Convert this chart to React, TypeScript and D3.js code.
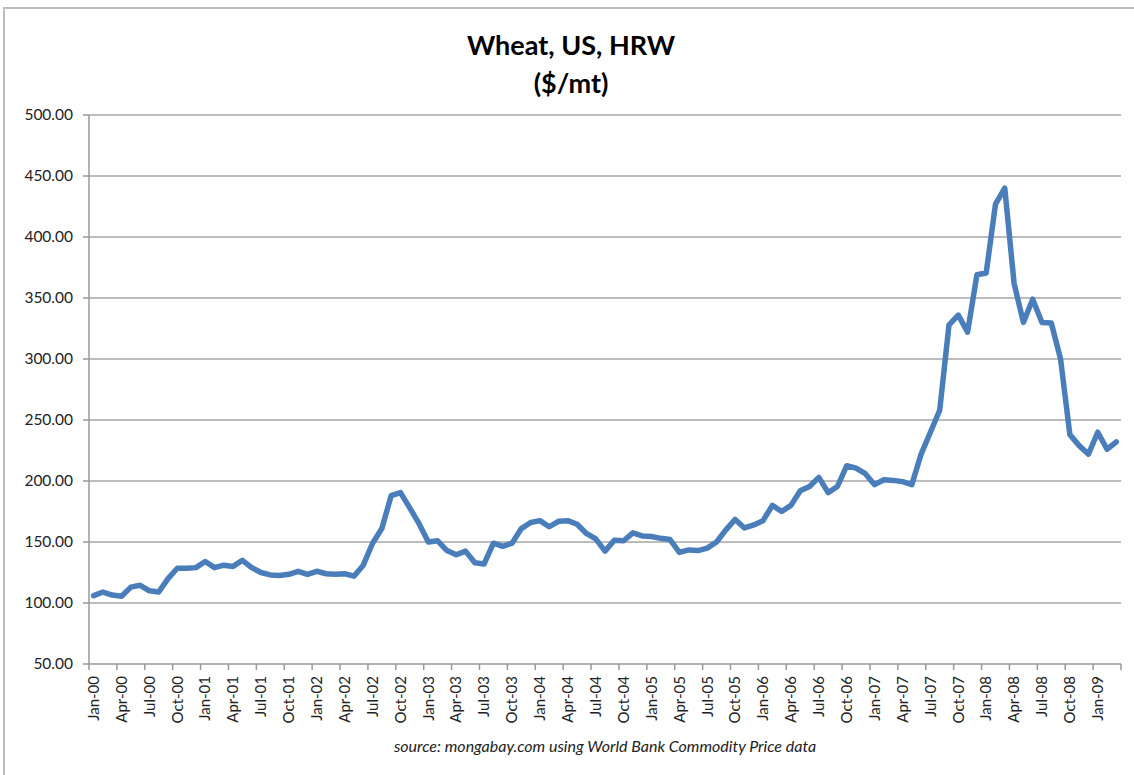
import React, { useEffect, useRef } from 'react';
import * as d3 from 'd3';

// Monthly HRW wheat prices ($/mt)
const prices2000 = [106, 109, 106.5, 105.5, 113, 114.5, 110, 109, 120, 128.5, 128.5, 129];
const prices2001 = [134, 129, 131, 130, 135, 129, 125, 123, 122.5, 123.5, 126, 123.5];
const prices2002 = [126, 124, 123.5, 124, 122, 131, 149, 161, 188, 190.5, 178, 165];
const prices2003 = [150, 151, 143, 139.5, 142.5, 133, 132, 149, 146.5, 149, 161, 166];
const prices2004 = [167.5, 162.5, 167, 167.5, 164.5, 157, 152.5, 142.5, 151.5, 151, 157.5, 155];
const prices2005 = [154.5, 153, 152, 141.5, 143.5, 143, 145, 150, 160, 168.5, 161.5, 164];
const prices2006 = [167.5, 180, 175, 180, 192, 195.5, 203, 190.5, 195.5, 212.5, 210.5, 206];
const prices2007 = [197, 201, 200.5, 199.5, 197, 222, 240, 258, 328, 336, 322, 369];
const prices2008 = [370.5, 427, 440, 362, 330, 349, 330, 329.5, 300, 238, 229, 222];
const prices2009 = [240, 226, 232];

const years = ['00', '01', '02', '03', '04', '05', '06', '07', '08', '09'];
const monthNames = ['Jan', 'Feb', 'Mar', 'Apr', 'May', 'Jun', 'Jul', 'Aug', 'Sep', 'Oct', 'Nov', 'Dec'];
const yTicks = [50, 100, 150, 200, 250, 300, 350, 400, 450, 500];

const title = ['Wheat, US, HRW', '($/mt)'];
const source = 'source: mongabay.com using World Bank Commodity Price data';

const prices = [
  ...prices2000, ...prices2001, ...prices2002, ...prices2003, ...prices2004,
  ...prices2005, ...prices2006, ...prices2007, ...prices2008, ...prices2009,
];
const months = prices.map((_, i) => `${monthNames[i % 12]}-${years[Math.floor(i / 12)]}`);

const FONT = 'Lato, "Open Sans", sans-serif';

const App: React.FC = () => {
  const svgRef = useRef<SVGSVGElement>(null);

  useEffect(() => {
    if (!svgRef.current) return;
    const width = 1134;
    const height = 775;
    const left = 89;
    const right = 1121;
    const top = 115;
    const bottom = 664;

    const svg = d3.select(svgRef.current)
      .attr('width', width)
      .attr('height', height);
    svg.selectAll('*').remove();

    svg.append('rect').attr('width', width).attr('height', height).attr('fill', '#ffffff');

    // outer chart frame
    svg.append('rect')
      .attr('x', 4).attr('y', 8)
      .attr('width', width + 20).attr('height', height + 20)
      .attr('fill', 'none')
      .attr('stroke', '#bdbdbd')
      .attr('stroke-width', 2);

    const x = d3.scaleBand<number>()
      .domain(d3.range(prices.length))
      .range([left, right]);
    const y = d3.scaleLinear().domain([50, 500]).range([bottom, top]);
    const cx = (i: number) => (x(i) as number) + x.bandwidth() / 2;

    // title
    svg.append('g')
      .selectAll('text')
      .data(title)
      .enter().append('text')
      .attr('x', 571)
      .attr('y', (_, i) => 55 + i * 38)
      .attr('text-anchor', 'middle')
      .attr('font-family', FONT)
      .attr('font-weight', 'bold')
      .attr('font-size', 27)
      .attr('fill', '#000')
      .text(d => d);

    // horizontal gridlines
    svg.append('g')
      .selectAll('line')
      .data(yTicks.filter(t => t > 50))
      .enter().append('line')
      .attr('x1', left).attr('x2', right)
      .attr('y1', d => y(d)).attr('y2', d => y(d))
      .attr('stroke', '#a6a6a6')
      .attr('stroke-width', 1.5);

    // y axis
    const yAxis = svg.append('g');
    yAxis.append('line')
      .attr('x1', left).attr('x2', left)
      .attr('y1', top).attr('y2', bottom)
      .attr('stroke', '#999').attr('stroke-width', 1.5);
    yAxis.selectAll('line.tick')
      .data(yTicks)
      .enter().append('line')
      .attr('class', 'tick')
      .attr('x1', left - 6).attr('x2', left)
      .attr('y1', d => y(d)).attr('y2', d => y(d))
      .attr('stroke', '#999').attr('stroke-width', 1.5);
    yAxis.selectAll('text')
      .data(yTicks)
      .enter().append('text')
      .attr('x', 73)
      .attr('y', d => y(d))
      .attr('dy', '0.35em')
      .attr('text-anchor', 'end')
      .attr('font-family', FONT)
      .attr('font-size', 15.5)
      .attr('fill', '#222')
      .text(d => d.toFixed(2));

    // x axis
    const xAxis = svg.append('g');
    xAxis.append('line')
      .attr('x1', left).attr('x2', right)
      .attr('y1', bottom).attr('y2', bottom)
      .attr('stroke', '#999').attr('stroke-width', 1.5);
    const tickIdx = d3.range(0, prices.length + 1, 3);
    xAxis.selectAll('line.tick')
      .data(tickIdx)
      .enter().append('line')
      .attr('class', 'tick')
      .attr('x1', d => (d < prices.length ? (x(d) as number) : right))
      .attr('x2', d => (d < prices.length ? (x(d) as number) : right))
      .attr('y1', bottom).attr('y2', bottom + 6)
      .attr('stroke', '#999').attr('stroke-width', 1.5);
    xAxis.selectAll('text')
      .data(tickIdx.filter(d => d < prices.length))
      .enter().append('text')
      .attr('transform', d => `translate(${cx(d)},${676}) rotate(-90)`)
      .attr('dy', '0.35em')
      .attr('text-anchor', 'end')
      .attr('font-family', FONT)
      .attr('font-size', 15)
      .attr('fill', '#222')
      .text(d => months[d]);

    // price line
    const line = d3.line<number>()
      .x((_, i) => cx(i))
      .y(d => y(d));
    svg.append('path')
      .datum(prices)
      .attr('d', line)
      .attr('fill', 'none')
      .attr('stroke', '#4a7ebb')
      .attr('stroke-width', 5.5)
      .attr('stroke-linejoin', 'round')
      .attr('stroke-linecap', 'round');

    // source note
    svg.append('text')
      .attr('x', 605)
      .attr('y', 752)
      .attr('text-anchor', 'middle')
      .attr('font-family', FONT)
      .attr('font-style', 'italic')
      .attr('font-size', 16)
      .attr('fill', '#222')
      .text(source);
  }, []);

  return (
    <svg
      ref={svgRef}
      style={{ position: 'absolute', left: 0, top: 0, display: 'block' }}
    />
  );
};

export default App;
